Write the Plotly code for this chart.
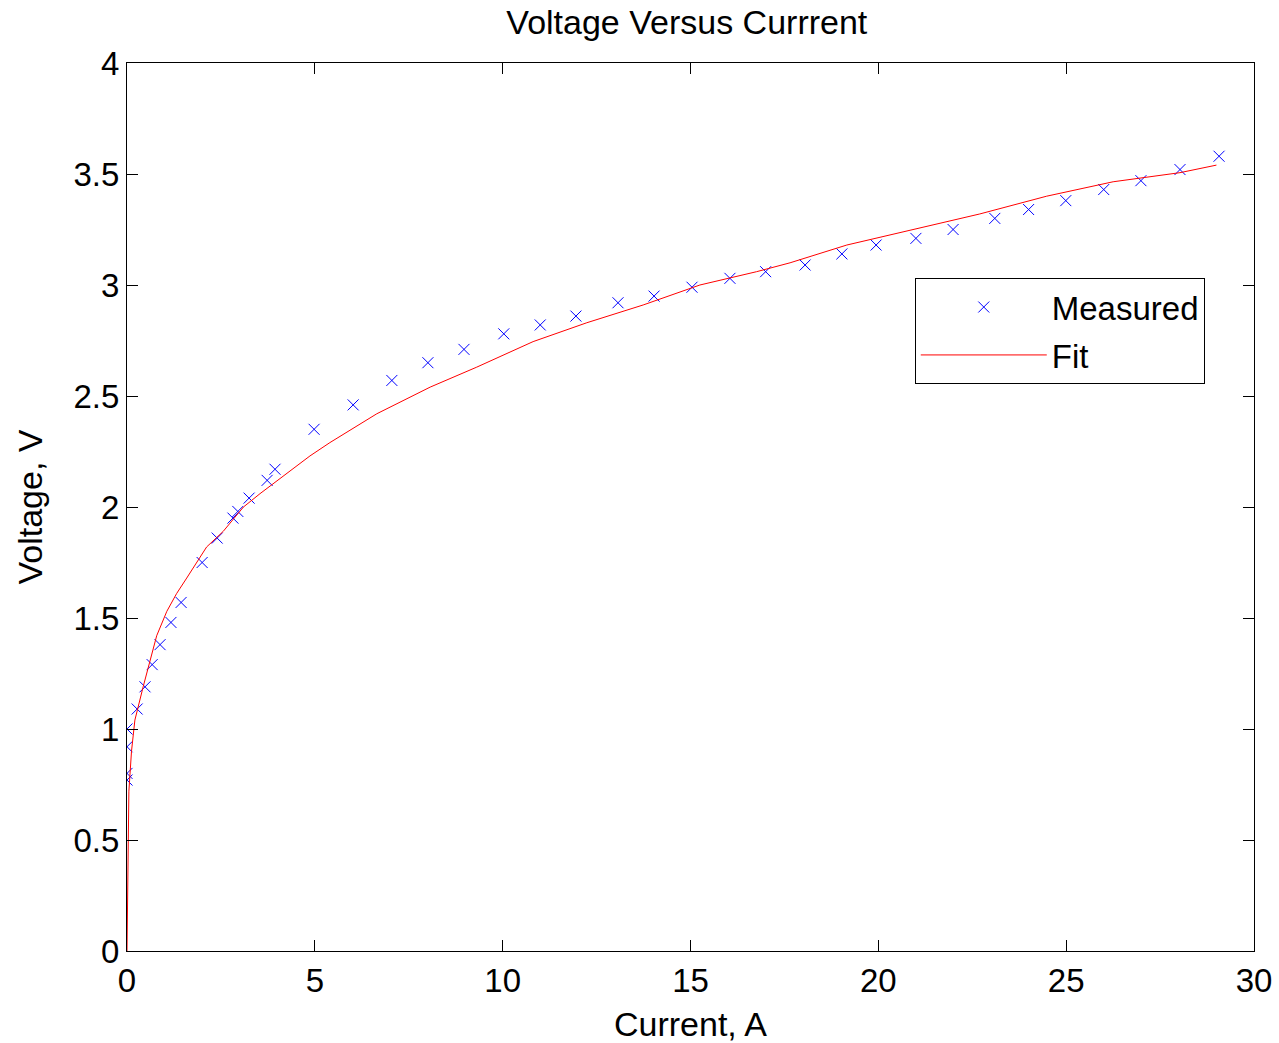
import plotly.graph_objects as go

meas_current = [0.0, 0.0, 0.0, 0.0, 0.27, 0.48, 0.67, 0.88, 1.17, 1.44, 2.0, 2.40, 2.82, 2.95,
                3.25, 3.73, 3.94, 4.98, 6.02, 7.05, 8.01, 8.97, 10.03, 11.0, 11.95, 13.07,
                14.03, 15.04, 16.05, 17.0, 18.05, 19.03, 19.94, 21.0, 21.99, 23.1, 24.0,
                24.99, 26.0, 26.99, 28.03, 29.07]
meas_voltage = [0.77, 0.80, 0.92, 1.0, 1.09, 1.19, 1.29, 1.38, 1.48, 1.57, 1.75, 1.86, 1.95, 1.98,
                2.04, 2.12, 2.17, 2.35, 2.46, 2.57, 2.65, 2.71, 2.78, 2.82, 2.86, 2.92,
                2.95, 2.99, 3.03, 3.06, 3.09, 3.14, 3.18, 3.21, 3.25, 3.30, 3.34,
                3.38, 3.43, 3.47, 3.52, 3.58]

# Fit curve
fit_current = [0.0, 0.05, 0.12, 0.21, 0.43, 0.61, 0.79, 1.06, 1.32, 1.59, 2.12, 2.56, 3.10, 3.54,
               4.16, 4.87, 5.40, 6.65, 8.07, 9.31, 10.81, 12.24, 13.74, 15.25, 16.76, 17.65,
               19.16, 20.93, 22.70, 24.48, 26.25, 28.03, 29.0]
fit_voltage = [0.0, 0.72, 0.90, 1.04, 1.19, 1.31, 1.42, 1.53, 1.61, 1.68, 1.82, 1.89, 2.0, 2.06,
               2.14, 2.23, 2.29, 2.42, 2.54, 2.63, 2.745, 2.83, 2.91, 3.0, 3.06, 3.10,
               3.18, 3.25, 3.32, 3.40, 3.465, 3.506, 3.54]

x_ticks = [0, 5, 10, 15, 20, 25, 30]
y_ticks = [0, 0.5, 1, 1.5, 2, 2.5, 3, 3.5, 4]

FONT = "Liberation Sans, Arial, sans-serif"

fig = go.Figure()
fig.add_trace(go.Scatter(
    x=meas_current, y=meas_voltage, mode="markers", name="Measured", legendgroup="a",
    marker=dict(symbol="x-thin", size=11, line=dict(color="#0000ff", width=1), color="#0000ff"),
))
fig.add_trace(go.Scatter(
    x=fit_current, y=fit_voltage, mode="lines", name="Fit", legendgroup="b",
    line=dict(color="#ff0000", width=1),
))

axis_common = dict(
    showgrid=False, zeroline=False, showline=True, linecolor="black", linewidth=1,
    mirror="allticks", ticks="inside", ticklen=11, tickcolor="black", tickwidth=1,
    tickfont=dict(family=FONT, size=33, color="black"), automargin=False,
)

fig.update_layout(
    width=1279, height=1043,
    paper_bgcolor="white", plot_bgcolor="white",
    margin=dict(l=127, r=25, t=63, b=92),
    title=dict(text="Voltage Versus Currrent", x=0.537, xanchor="center", y=0.979, yanchor="middle",
               font=dict(family=FONT, size=34, color="black")),
    xaxis=dict(range=[0, 30], tickvals=x_ticks, ticktext=[str(v) for v in x_ticks],
               title=dict(text="Current, A", font=dict(family=FONT, size=34, color="black"), standoff=16),
               **axis_common),
    yaxis=dict(range=[0, 4], tickvals=y_ticks, ticktext=[("%g" % v) for v in y_ticks],
               title=dict(text="Voltage, V", font=dict(family=FONT, size=34, color="black"), standoff=20),
               **axis_common),
    legend=dict(x=0.699, y=0.7578, xanchor="left", yanchor="top",
                bordercolor="black", borderwidth=1, bgcolor="white",
                font=dict(family=FONT, size=33, color="black"),
                itemwidth=126, traceorder="grouped", tracegroupgap=2),
    showlegend=True,
)

fig.write_html("out.html")
